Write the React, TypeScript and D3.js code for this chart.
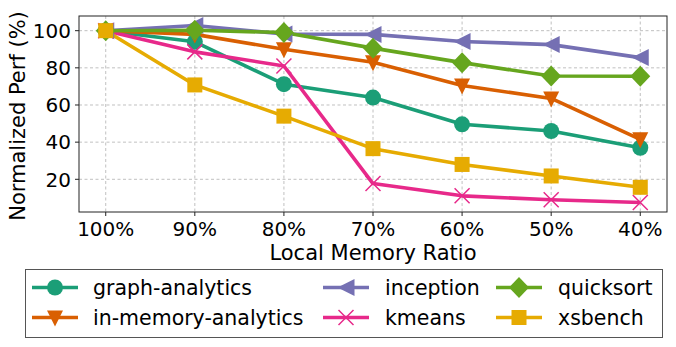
import React from "react";
import * as d3 from "d3";

const ratios = ["100%", "90%", "80%", "70%", "60%", "50%", "40%"];
const yTicks = [20, 40, 60, 80, 100];

const graphAnalytics = [100, 94, 71.2, 64, 49.6, 46, 37];
const inMemoryAnalytics = [100, 98, 90, 83, 70.5, 63.5, 41.5];
const inception = [100, 102.8, 98.2, 98, 94.2, 92.5, 85.5];
const kmeans = [100, 88.6, 81, 17.7, 11.1, 9, 7.5];
const quicksort = [100, 100.2, 99, 90.6, 82.8, 75.6, 75.5];
const xsbench = [100, 70.8, 54, 36.5, 28, 21.8, 15.7];

const names = ["graph-analytics", "in-memory-analytics", "inception", "kmeans", "quicksort", "xsbench"];
const colors = ["#1b9e77", "#d95f02", "#7570b3", "#e7298a", "#66a61e", "#e6ab02"];
const markers = ["circle", "triangleDown", "triangleLeft", "x", "diamond", "square"];

const series = [graphAnalytics, inMemoryAnalytics, inception, kmeans, quicksort, xsbench];

const W = 676, H = 347;
const left = 79, right = 667, top = 16, bottom = 212;
const font = "DejaVu Sans, sans-serif";

function Marker({ kind, x, y, color }: { kind: string; x: number; y: number; color: string }) {
  if (kind === "circle") return <circle cx={x} cy={y} r={8} fill={color} />;
  if (kind === "square") return <rect x={x - 7.5} y={y - 7.5} width={15} height={15} fill={color} />;
  if (kind === "diamond")
    return <path d={`M${x},${y - 10.5}L${x + 10},${y}L${x},${y + 10.5}L${x - 10},${y}Z`} fill={color} />;
  if (kind === "triangleDown")
    return <path d={`M${x - 8},${y - 7}L${x + 8},${y - 7}L${x},${y + 9}Z`} fill={color} />;
  if (kind === "triangleLeft")
    return <path d={`M${x - 8.5},${y}L${x + 8.5},${y - 8.5}L${x + 8.5},${y + 8.5}Z`} fill={color} />;
  // x marker
  return (
    <path
      d={`M${x - 7.5},${y - 7.5}L${x + 7.5},${y + 7.5}M${x - 7.5},${y + 7.5}L${x + 7.5},${y - 7.5}`}
      stroke={color}
      strokeWidth={1.5}
      fill="none"
    />
  );
}

export default function App() {
  const x = d3.scalePoint<string>().domain(ratios).range([left, right]).padding(0.3);
  const y = d3.scaleLinear().domain([2.4, 107.9]).range([bottom, top]);
  const line = d3
    .line<number>()
    .x((_, i) => x(ratios[i])!)
    .y((d) => y(d));

  const legendRows = [287.5, 317.5];
  const legendCols = [{ h: 32, t: 93 }, { h: 323, t: 385 }, { h: 496, t: 558 }];
  // legend columns: col0 = 0,1 ; col1 = 2,3 ; col2 = 4,5
  return (
    <svg width={W} height={H} style={{ position: "absolute", left: 0, top: 0 }} fontFamily={font}>
      <rect width={W} height={H} fill="white" />
      {/* grid */}
      {ratios.map((r) => (
        <line key={r} x1={x(r)} x2={x(r)} y1={top} y2={bottom} stroke="#b0b0b0" strokeDasharray="3,2.5" strokeWidth={0.8} />
      ))}
      {yTicks.map((t) => (
        <line key={t} x1={left} x2={right} y1={y(t)} y2={y(t)} stroke="#b0b0b0" strokeDasharray="3,2.5" strokeWidth={0.8} />
      ))}
      {/* lines */}
      {series.map((s, i) => (
        <path key={names[i]} d={line(s)!} fill="none" stroke={colors[i]} strokeWidth={3.6} strokeLinejoin="round" />
      ))}
      {series.map((s, i) =>
        s.map((v, j) => <Marker key={`${i}-${j}`} kind={markers[i]} x={x(ratios[j])!} y={y(v)} color={colors[i]} />)
      )}
      {/* frame */}
      <rect x={left} y={top} width={right - left} height={bottom - top} fill="none" stroke="#222" strokeWidth={1} />
      {/* ticks */}
      {ratios.map((r) => (
        <g key={r}>
          <line x1={x(r)} x2={x(r)} y1={bottom} y2={bottom + 4} stroke="#222" />
          <text x={x(r)} y={235.5} textAnchor="middle" fontSize={20}>
            {r}
          </text>
        </g>
      ))}
      {yTicks.map((t) => (
        <g key={t}>
          <line x1={left - 4} x2={left} y1={y(t)} y2={y(t)} stroke="#222" />
          <text x={left - 8} y={y(t)} dy="0.36em" textAnchor="end" fontSize={20}>
            {t}
          </text>
        </g>
      ))}
      <text x={(left + right) / 2} y={260} textAnchor="middle" fontSize={21}>
        Local Memory Ratio
      </text>
      <text transform={`translate(24.5,116) rotate(-90)`} textAnchor="middle" fontSize={21}>
        Normalized Perf (%)
      </text>
      {/* legend */}
      <rect x={25.5} y={269.5} width={637} height={68} fill="white" stroke="#555" strokeWidth={1} />
      {names.map((n, i) => {
        const col = legendCols[Math.floor(i / 2)];
        const ry = legendRows[i % 2];
        return (
          <g key={n}>
            <line x1={col.h} x2={col.h + 46} y1={ry} y2={ry} stroke={colors[i]} strokeWidth={3.6} />
            <Marker kind={markers[i]} x={col.h + 23} y={ry} color={colors[i]} />
            <text x={col.t} y={ry} dy="0.36em" fontSize={20.5}>
              {n}
            </text>
          </g>
        );
      })}
    </svg>
  );
}
